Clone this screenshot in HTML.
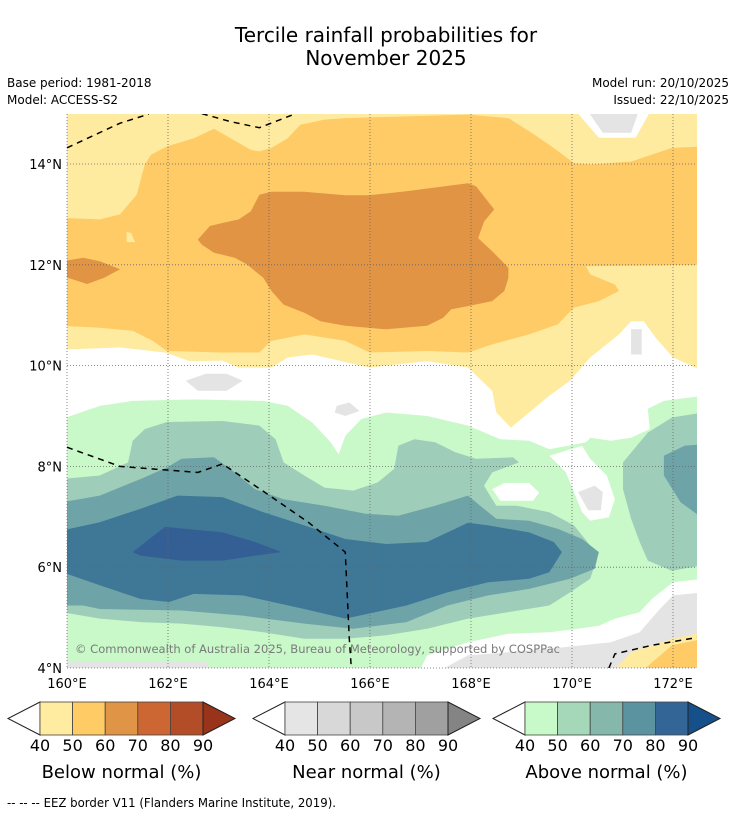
<!DOCTYPE html>
<html><head><meta charset="utf-8"><style>
body{margin:0;background:#fff;font-family:"Liberation Sans","DejaVu Sans",sans-serif;}
svg text{font-family:"DejaVu Sans","Liberation Sans",sans-serif;}
</style></head><body>
<svg id="chart" width="736" height="816" viewBox="0 0 736 816" xmlns="http://www.w3.org/2000/svg">
<text x="386" y="42" text-anchor="middle" font-size="20">Tercile rainfall probabilities for</text>
<text x="386" y="65" text-anchor="middle" font-size="20">November 2025</text>
<text x="7" y="87" font-size="12">Base period: 1981-2018</text>
<text x="7" y="104" font-size="12">Model: ACCESS-S2</text>
<text x="729" y="87" font-size="12" text-anchor="end">Model run: 20/10/2025</text>
<text x="729" y="104" font-size="12" text-anchor="end">Issued: 22/10/2025</text>
<defs><clipPath id="mapclip"><rect x="67" y="114" width="630" height="554"/></clipPath></defs>
<g id="map" clip-path="url(#mapclip)"><rect x="67" y="114" width="630" height="554" fill="#fff"/></g>
<g id="grid"></g>
<g id="eez" clip-path="url(#mapclip)"></g>
<text x="75" y="653" font-size="11.5" textLength="485" lengthAdjust="spacingAndGlyphs" fill="#7a7a7a">© Commonwealth of Australia 2025, Bureau of Meteorology, supported by COSPPac</text>
<g id="axes"></g>
<g id="bars"></g>
<text x="7" y="807" font-size="12" textLength="329" lengthAdjust="spacingAndGlyphs">-- -- -- EEZ border V11 (Flanders Marine Institute, 2019).</text>
</svg>
<script>
const lonTicks=[160,162,164,166,168,170,172];
const latTicks=[4,6,8,10,12,14];
const cbTicks=["40","50","60","70","80","90"];
const belowColors=["#ffeca0","#fecb65","#e09446","#cc6633","#b34d28","#993319"];
const nearColors=["#e5e5e5","#d8d8d8","#c8c8c8","#b4b4b4","#a0a0a0","#848484"];
const aboveColors=["#c8f9c8","#a5d8b8","#85b8ab","#5b93a1","#346597","#16508a"];
const belowYellow=[[159.9,15.1],[172.6,15.1],[172.6,9.89],[172.0,10.16],[171.66,10.55],[171.42,10.88],[171.17,10.88],[170.93,10.62],[170.36,10.16],[169.96,9.70],[169.55,9.40],[168.79,8.77],[168.5,9.07],[168.42,9.50],[167.94,9.96],[167.13,10.09],[165.99,9.96],[164.86,10.22],[164.37,10.16],[164.05,9.96],[163.4,9.96],[163.08,10.1],[162.43,10.09],[161.94,10.26],[161.05,10.36],[159.9,10.32]];
const belowOrange=[[159.9,12.93],[160.65,12.90],[161.05,13.0],[161.38,13.39],[161.54,13.99],[161.66,14.18],[161.98,14.35],[162.51,14.51],[162.91,14.70],[163.24,14.51],[163.64,14.28],[163.81,14.25],[164.05,14.32],[164.37,14.51],[164.62,14.78],[165.10,14.88],[165.51,14.91],[167.94,14.98],[168.74,14.91],[169.15,14.65],[169.55,14.38],[170.04,14.02],[170.36,13.99],[171.17,14.05],[171.98,14.32],[172.6,14.35],[172.6,12.0],[170.28,11.97],[170.36,11.81],[170.85,11.61],[170.93,11.48],[170.53,11.28],[170.04,11.15],[169.72,10.82],[169.15,10.62],[168.42,10.42],[167.94,10.26],[167.13,10.29],[165.99,10.26],[165.51,10.49],[164.70,10.62],[164.05,10.49],[163.81,10.26],[163.08,10.26],[161.98,10.29],[161.70,10.49],[161.30,10.69],[160.65,10.75],[159.9,10.79]];
const belowDark=[[162.59,12.50],[162.83,12.77],[163.08,12.83],[163.40,12.90],[163.64,13.06],[163.81,13.39],[164.05,13.45],[164.70,13.45],[165.51,13.38],[165.99,13.38],[166.72,13.46],[167.94,13.62],[168.10,13.56],[168.46,13.10],[168.26,12.86],[168.14,12.53],[168.42,12.27],[168.74,11.94],[168.74,11.74],[168.66,11.48],[168.42,11.28],[167.94,11.18],[167.61,11.12],[167.45,10.95],[167.13,10.79],[166.32,10.72],[165.51,10.79],[165.02,10.88],[164.70,11.05],[164.29,11.21],[164.05,11.48],[163.89,11.74],[163.56,12.01],[163.32,12.14],[162.91,12.24],[162.67,12.40]];
const belowDarkLeft=[[159.9,12.07],[160.32,12.14],[160.65,12.07],[161.05,11.91],[160.73,11.74],[160.40,11.62],[159.9,11.78]];
const yellowSpeck=[[161.18,12.65],[161.27,12.63],[161.35,12.45],[161.18,12.45]];
const whiteTopRight=[[170.04,15.1],[171.58,15.1],[171.26,14.52],[170.53,14.52]];
const greyTopRight=[[170.28,15.1],[171.34,15.1],[171.17,14.62],[170.61,14.62]];
const greyRect=[[171.17,10.72],[171.38,10.72],[171.38,10.22],[171.17,10.22]];
const greyMid=[[162.35,9.70],[162.75,9.84],[163.16,9.84],[163.48,9.70],[163.16,9.50],[162.59,9.50]];
const greyMid2=[[165.34,9.20],[165.59,9.27],[165.79,9.10],[165.51,9.00],[165.30,9.07]];
const aboveGreen=[[159.9,8.94],[160.65,9.20],[161.30,9.30],[162.51,9.33],[163.89,9.30],[164.37,9.20],[164.86,8.87],[165.22,8.48],[165.38,8.24],[165.51,8.61],[165.83,8.94],[166.32,9.07],[167.13,9.00],[167.94,8.81],[168.58,8.54],[169.15,8.51],[169.55,8.34],[170.28,8.48],[170.36,8.57],[170.77,8.51],[171.17,8.57],[171.54,8.74],[171.50,9.14],[171.82,9.30],[172.6,9.40],[172.6,5.77],[172.0,5.70],[171.58,5.37],[171.34,5.11],[170.85,4.98],[170.53,4.84],[170.12,4.78],[169.55,4.71],[168.74,4.68],[167.94,4.51],[167.13,4.25],[166.96,3.9],[162.91,3.9],[162.75,4.12],[159.9,4.12]];
const whiteRight=[[169.55,8.21],[169.88,7.88],[170.20,7.09],[170.36,6.92],[170.73,6.99],[170.85,7.35],[170.69,7.82],[170.36,8.15],[170.20,8.41]];
const greyRight=[[170.12,7.49],[170.45,7.62],[170.61,7.49],[170.57,7.13],[170.32,7.13]];
const above50=[[159.9,7.75],[160.65,7.82],[161.21,8.08],[161.30,8.51],[161.54,8.74],[161.98,8.88],[163.08,8.90],[163.81,8.81],[164.13,8.54],[164.29,8.08],[164.70,7.82],[165.10,7.58],[165.67,7.52],[166.15,7.68],[166.48,7.95],[166.56,8.41],[166.88,8.54],[167.29,8.48],[167.69,8.28],[168.10,8.15],[168.83,8.18],[168.95,8.08],[168.42,7.88],[168.26,7.62],[168.42,7.35],[168.91,7.22],[169.55,7.09],[170.04,6.83],[170.36,6.43],[170.53,6.30],[170.36,5.77],[169.96,5.50],[169.55,5.24],[168.74,5.11],[167.94,4.98],[167.13,4.78],[166.32,4.65],[165.51,4.58],[164.70,4.58],[163.89,4.71],[163.08,4.81],[162.27,4.88],[161.46,4.91],[160.65,4.98],[159.9,5.11]];
const above50Right=[[171.01,8.08],[171.50,8.67],[171.98,8.97],[172.6,9.07],[172.6,6.04],[171.98,5.93],[171.50,6.13],[171.34,6.50],[171.17,6.96],[171.01,7.55]];
const greenRing=[[168.26,7.62],[168.66,7.78],[169.23,7.75],[169.55,7.49],[169.31,7.22],[168.50,7.22]];
const whiteHole=[[168.42,7.55],[168.66,7.67],[169.15,7.67],[169.35,7.48],[169.23,7.32],[168.58,7.32]];
const above60=[[159.9,7.29],[160.65,7.42],[161.46,7.75],[161.98,7.98],[162.27,8.15],[162.91,8.18],[163.32,7.88],[163.72,7.55],[164.29,7.35],[165.10,7.22],[165.91,7.06],[166.56,7.02],[167.29,7.22],[167.94,7.42],[168.18,7.22],[168.50,6.96],[169.15,6.92],[169.72,6.76],[170.20,6.56],[170.53,6.30],[170.45,5.97],[169.96,5.77],[169.15,5.57],[168.34,5.44],[167.53,5.24],[166.72,4.91],[165.67,4.78],[164.70,4.88],[163.48,5.04],[162.27,5.14],[160.65,5.17],[160.32,5.24],[159.9,5.24]];
const above60Right=[[171.82,8.21],[172.23,8.41],[172.6,8.44],[172.6,6.96],[172.15,7.29],[171.82,7.82]];
const above70=[[159.9,6.73],[160.65,6.89],[161.46,7.16],[162.19,7.42],[163.08,7.39],[163.89,7.09],[164.70,6.83],[165.51,6.56],[166.32,6.46],[167.13,6.50],[167.94,6.88],[168.34,6.83],[169.15,6.69],[169.64,6.50],[169.80,6.30],[169.55,5.90],[169.15,5.77],[168.34,5.70],[167.53,5.50],[166.72,5.24],[165.51,4.98],[164.70,5.17],[163.48,5.44],[162.51,5.47],[162.02,5.31],[161.46,5.37],[160.65,5.64],[159.9,5.90]];
const above80=[[161.30,6.30],[161.94,6.80],[163.08,6.69],[163.72,6.50],[164.25,6.30],[163.72,6.23],[163.08,6.13],[162.27,6.13],[161.46,6.23]];
const greyBottomRight=[[172.6,5.50],[172.0,5.44],[171.74,5.17],[171.34,4.71],[170.77,4.51],[169.55,4.38],[167.94,4.25],[167.29,3.9],[172.6,3.9]];
const greyBottomLeft=[[159.9,4.12],[162.75,4.12],[162.91,3.9],[159.9,3.9]];
const yellowCorner=[[170.77,3.9],[171.17,4.32],[171.98,4.58],[172.6,4.71],[172.6,3.9]];
const orangeCorner=[[171.34,3.9],[171.98,4.45],[172.6,4.58],[172.6,3.9]];
const eez1=[[160,14.32],[160.49,14.55],[161.05,14.81],[161.62,14.99]];
const eez2=[[162.67,15.0],[163.24,14.84],[163.81,14.72],[164.53,15.0]];
const eez3=[[160,8.38],[161.05,8.0],[162.59,7.88],[163.08,8.05],[163.97,7.45],[164.78,6.89],[165.51,6.30],[165.59,4.58],[165.63,4.0]];
const eez4=[[170.73,4.0],[170.85,4.28],[171.58,4.45],[172.5,4.61]];

const NS='http://www.w3.org/2000/svg';
const X=lon=>67+(lon-160)*50.5;
const Y=lat=>668-(lat-4)*50.4;
function poly(parent,pts,fill,name){
  const p=document.createElementNS(NS,'polygon');
  p.setAttribute('points',pts.map(d=>X(d[0]).toFixed(1)+','+Y(d[1]).toFixed(1)).join(' '));
  p.setAttribute('fill',fill);
  
  
  parent.appendChild(p);
}
const map=document.getElementById('map');
const Y1="#ffeb9f",O1="#fecb66",D1="#e09444",G0="#e4e4e4";
const A1="#c9f8c9",A2="#9ecdb9",A3="#6ea3a7",A4="#3f7797",A5="#335f94";
poly(map,belowYellow,Y1,'below-40-50-region');
poly(map,whiteTopRight,'#fff','white-patch');
poly(map,greyTopRight,G0,'near-normal-patch');
poly(map,belowOrange,O1,'below-50-60-region');
poly(map,yellowSpeck,Y1,'below-40-50-speck');
poly(map,belowDark,D1,'below-60-70-region');
poly(map,belowDarkLeft,D1,'below-60-70-west');
poly(map,greyRect,G0,'near-normal-patch');
poly(map,greyMid,G0,'near-normal-patch');
poly(map,greyMid2,G0,'near-normal-patch');
poly(map,greyBottomRight,G0,'near-normal-patch');
poly(map,greyBottomLeft,G0,'near-normal-patch');
poly(map,yellowCorner,Y1,'below-40-50-corner');
poly(map,orangeCorner,O1,'below-50-60-corner');
poly(map,aboveGreen,A1,'above-40-50-region');
poly(map,whiteRight,'#fff','white-patch');
poly(map,greyRight,G0,'near-normal-patch');
poly(map,above50,A2,'above-50-60-region');
poly(map,above50Right,A2,'above-50-60-east');
poly(map,greenRing,A1,'above-40-50-ring');
poly(map,whiteHole,'#fff','white-patch');
poly(map,above60,A3,'above-60-70-region');
poly(map,above60Right,A3,'above-60-70-east');
poly(map,above70,A4,'above-70-80-region');
poly(map,above80,A5,'above-80-90-region');

const grid=document.getElementById('grid');
lonTicks.forEach(v=>{const l=document.createElementNS(NS,'line');l.setAttribute('x1',X(v));l.setAttribute('x2',X(v));l.setAttribute('y1',114);l.setAttribute('y2',668);l.setAttribute('stroke','#666');l.setAttribute('stroke-width','0.8');l.setAttribute('stroke-dasharray','1,2');


grid.appendChild(l);});
latTicks.forEach(v=>{const l=document.createElementNS(NS,'line');l.setAttribute('x1',67);l.setAttribute('x2',697);l.setAttribute('y1',Y(v));l.setAttribute('y2',Y(v));l.setAttribute('stroke','#666');l.setAttribute('stroke-width','0.8');l.setAttribute('stroke-dasharray','1,2');


grid.appendChild(l);});

const eez=document.getElementById('eez');
[eez1,eez2,eez3,eez4].forEach(e=>{const p=document.createElementNS(NS,'polyline');p.setAttribute('points',e.map(d=>X(d[0])+','+Y(d[1])).join(' '));p.setAttribute('fill','none');p.setAttribute('stroke','#000');p.setAttribute('stroke-width','1.5');p.setAttribute('stroke-dasharray','6,5');


eez.appendChild(p);});

const axes=document.getElementById('axes');
lonTicks.forEach(v=>{const t=document.createElementNS(NS,'text');t.setAttribute('x',X(v));t.setAttribute('y',688);t.setAttribute('font-size','13');t.setAttribute('text-anchor','middle');t.textContent=v+'°E';


axes.appendChild(t);});
latTicks.forEach(v=>{const t=document.createElementNS(NS,'text');t.setAttribute('x',62);t.setAttribute('y',Y(v)+5);t.setAttribute('font-size','13');t.setAttribute('text-anchor','end');t.textContent=v+'°N';


axes.appendChild(t);});

const bars=document.getElementById('bars');
function colorbar(x0,colors,title,name){
  const g=document.createElementNS(NS,'g');
  
  
  const w=32.6,top=702,h=33,bx=x0+32;
  const lt=document.createElementNS(NS,'polygon');lt.setAttribute('points',`${bx},${top} ${x0},${top+h/2} ${bx},${top+h}`);lt.setAttribute('fill','#fff');lt.setAttribute('stroke','#222');g.appendChild(lt);
  colors.slice(0,5).forEach((c,i)=>{const r=document.createElementNS(NS,'rect');r.setAttribute('x',bx+i*w);r.setAttribute('y',top);r.setAttribute('width',w);r.setAttribute('height',h);r.setAttribute('fill',c);r.setAttribute('stroke','#444');r.setAttribute('stroke-width','0.8');g.appendChild(r);});
  const ex=bx+5*w;
  const rt=document.createElementNS(NS,'polygon');rt.setAttribute('points',`${ex},${top} ${ex+32},${top+h/2} ${ex},${top+h}`);rt.setAttribute('fill',colors[5]);rt.setAttribute('stroke','#222');g.appendChild(rt);
  cbTicks.forEach((s,i)=>{const t=document.createElementNS(NS,'text');t.setAttribute('x',bx+i*w);t.setAttribute('y',751);t.setAttribute('font-size','16');t.setAttribute('text-anchor','middle');t.textContent=s;g.appendChild(t);});
  const tt=document.createElementNS(NS,'text');tt.setAttribute('x',bx+2.5*w);tt.setAttribute('y',778);tt.setAttribute('font-size','18');tt.setAttribute('text-anchor','middle');tt.textContent=title;g.appendChild(tt);
  bars.appendChild(g);
}
colorbar(8,belowColors,'Below normal (%)','below-normal-colorbar');
colorbar(253,nearColors,'Near normal (%)','near-normal-colorbar');
colorbar(493,aboveColors,'Above normal (%)','above-normal-colorbar');
</script>
</body></html>
